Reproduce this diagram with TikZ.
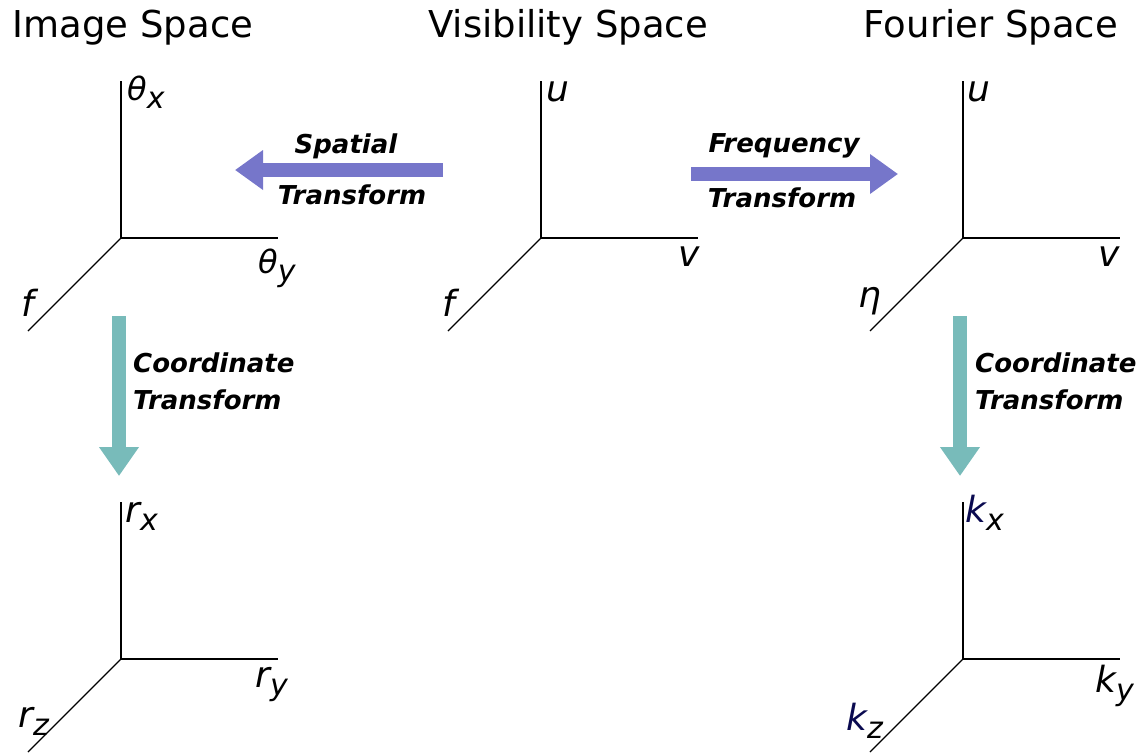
\documentclass[tikz,border=0pt]{standalone}
\usepackage{fontspec}
\setmainfont{DejaVu Sans}
\usepackage{tikz}
\usetikzlibrary{arrows.meta}
\definecolor{xPurple}{RGB}{118,118,202}
\definecolor{xTeal}{RGB}{120,187,186}
\definecolor{xNavy}{RGB}{10,10,80}
\newcommand{\axsub}[1]{\raisebox{-8pt}{\fontsize{30}{30}\selectfont #1}}
\newcommand{\axth}{{\fontsize{32}{32}\selectfont\itshape\char"03B8}}
\tikzset{
  axisline/.style={line width=1.1pt, black},
  axlabel/.style={anchor=base west, inner sep=0pt, font=\fontsize{36}{36}\selectfont\itshape},
  title/.style={anchor=base, font=\fontsize{37}{37}\selectfont, inner sep=0pt},
  tlabel/.style={font=\fontsize{26}{26}\selectfont\bfseries\itshape, inner sep=0pt},
  hbig/.style={line width=14pt, xPurple, -{Triangle[length=28pt, width=38pt]}},
  vbig/.style={line width=14pt, xTeal, -{Triangle[length=29pt, width=38pt]}}
}

\begin{document}
\begin{tikzpicture}[x=1pt, y=-1pt]
  \useasboundingbox (0,0) rectangle (1141,753);

  % Titles
  \node[title] (tImg) at (133,37) {Image Space};
  \node[title] (tVis) at (568,37) {Visibility Space};
  \node[title] (tFou) at (991,37) {Fourier Space};

  % Axis triples
  \foreach \n/\x/\y in {img/121/238, vis/541/238, fou/963/238, pos/121/659, ksp/963/659} {
    \coordinate (\n) at (\x,\y);
    \coordinate (\n-up) at (\x,\y-157);
    \coordinate (\n-right) at (\x+157,\y);
    \coordinate (\n-diag) at (\x-93,\y+93);
    \draw[axisline] (\n-up) -- (\n) -- (\n-right);
    \draw[axisline] (\n) -- (\n-diag);
  }

  % Image space labels
  \node[axlabel] (lImgX) at (127,100) {\axth\axsub{x}};
  \node[axlabel] (lImgY) at (258,273) {\axth\axsub{y}};
  \node[axlabel] (lImgF) at (21,316) {f};

  % Visibility space labels
  \node[axlabel] (lVisU) at (546,101) {u};
  \node[axlabel] (lVisV) at (678,266) {v};
  \node[axlabel] (lVisF) at (442,316) {f};

  % Fourier space labels
  \node[axlabel] (lFouU) at (967,101) {u};
  \node[axlabel] (lFouV) at (1098,266) {v};
  \node[axlabel] (lFouE) at (858,307) {η};

  % Position space labels
  \node[axlabel] (lPosX) at (125,522) {r\axsub{x}};
  \node[axlabel] (lPosY) at (255,687) {r\axsub{y}};
  \node[axlabel] (lPosZ) at (18,727) {r\axsub{z}};

  % k space labels
  \node[axlabel] (lKX) at (965,522) {\textcolor{xNavy}{k}\axsub{x}};
  \node[axlabel] (lKY) at (1095,692) {k\axsub{y}};
  \node[axlabel] (lKZ) at (846,730) {\textcolor{xNavy}{k}\axsub{z}};

  % Transform arrows
  \coordinate (sp-a) at (443,170);
  \coordinate (sp-b) at (235,170);
  \draw[hbig] (sp-a) -- (sp-b);
  \node[tlabel] (tSp1) at (346,146) {Spatial};
  \node[tlabel] (tSp2) at (352,195) {Transform};

  \coordinate (fr-a) at (691,174);
  \coordinate (fr-b) at (898,174);
  \draw[hbig] (fr-a) -- (fr-b);
  \node[tlabel] (tFr1) at (784,146) {Frequency};
  \node[tlabel] (tFr2) at (782,198) {Transform};

  \coordinate (cl-a) at (119,316);
  \coordinate (cl-b) at (119,476);
  \draw[vbig] (cl-a) -- (cl-b);
  \node[tlabel, anchor=west] (tCl1) at (133,363) {Coordinate};
  \node[tlabel, anchor=west] (tCl2) at (133,400) {Transform};

  \coordinate (cr-a) at (960,316);
  \coordinate (cr-b) at (960,476);
  \draw[vbig] (cr-a) -- (cr-b);
  \node[tlabel, anchor=west] (tCr1) at (975,363) {Coordinate};
  \node[tlabel, anchor=west] (tCr2) at (975,400) {Transform};
\end{tikzpicture}
\end{document}
